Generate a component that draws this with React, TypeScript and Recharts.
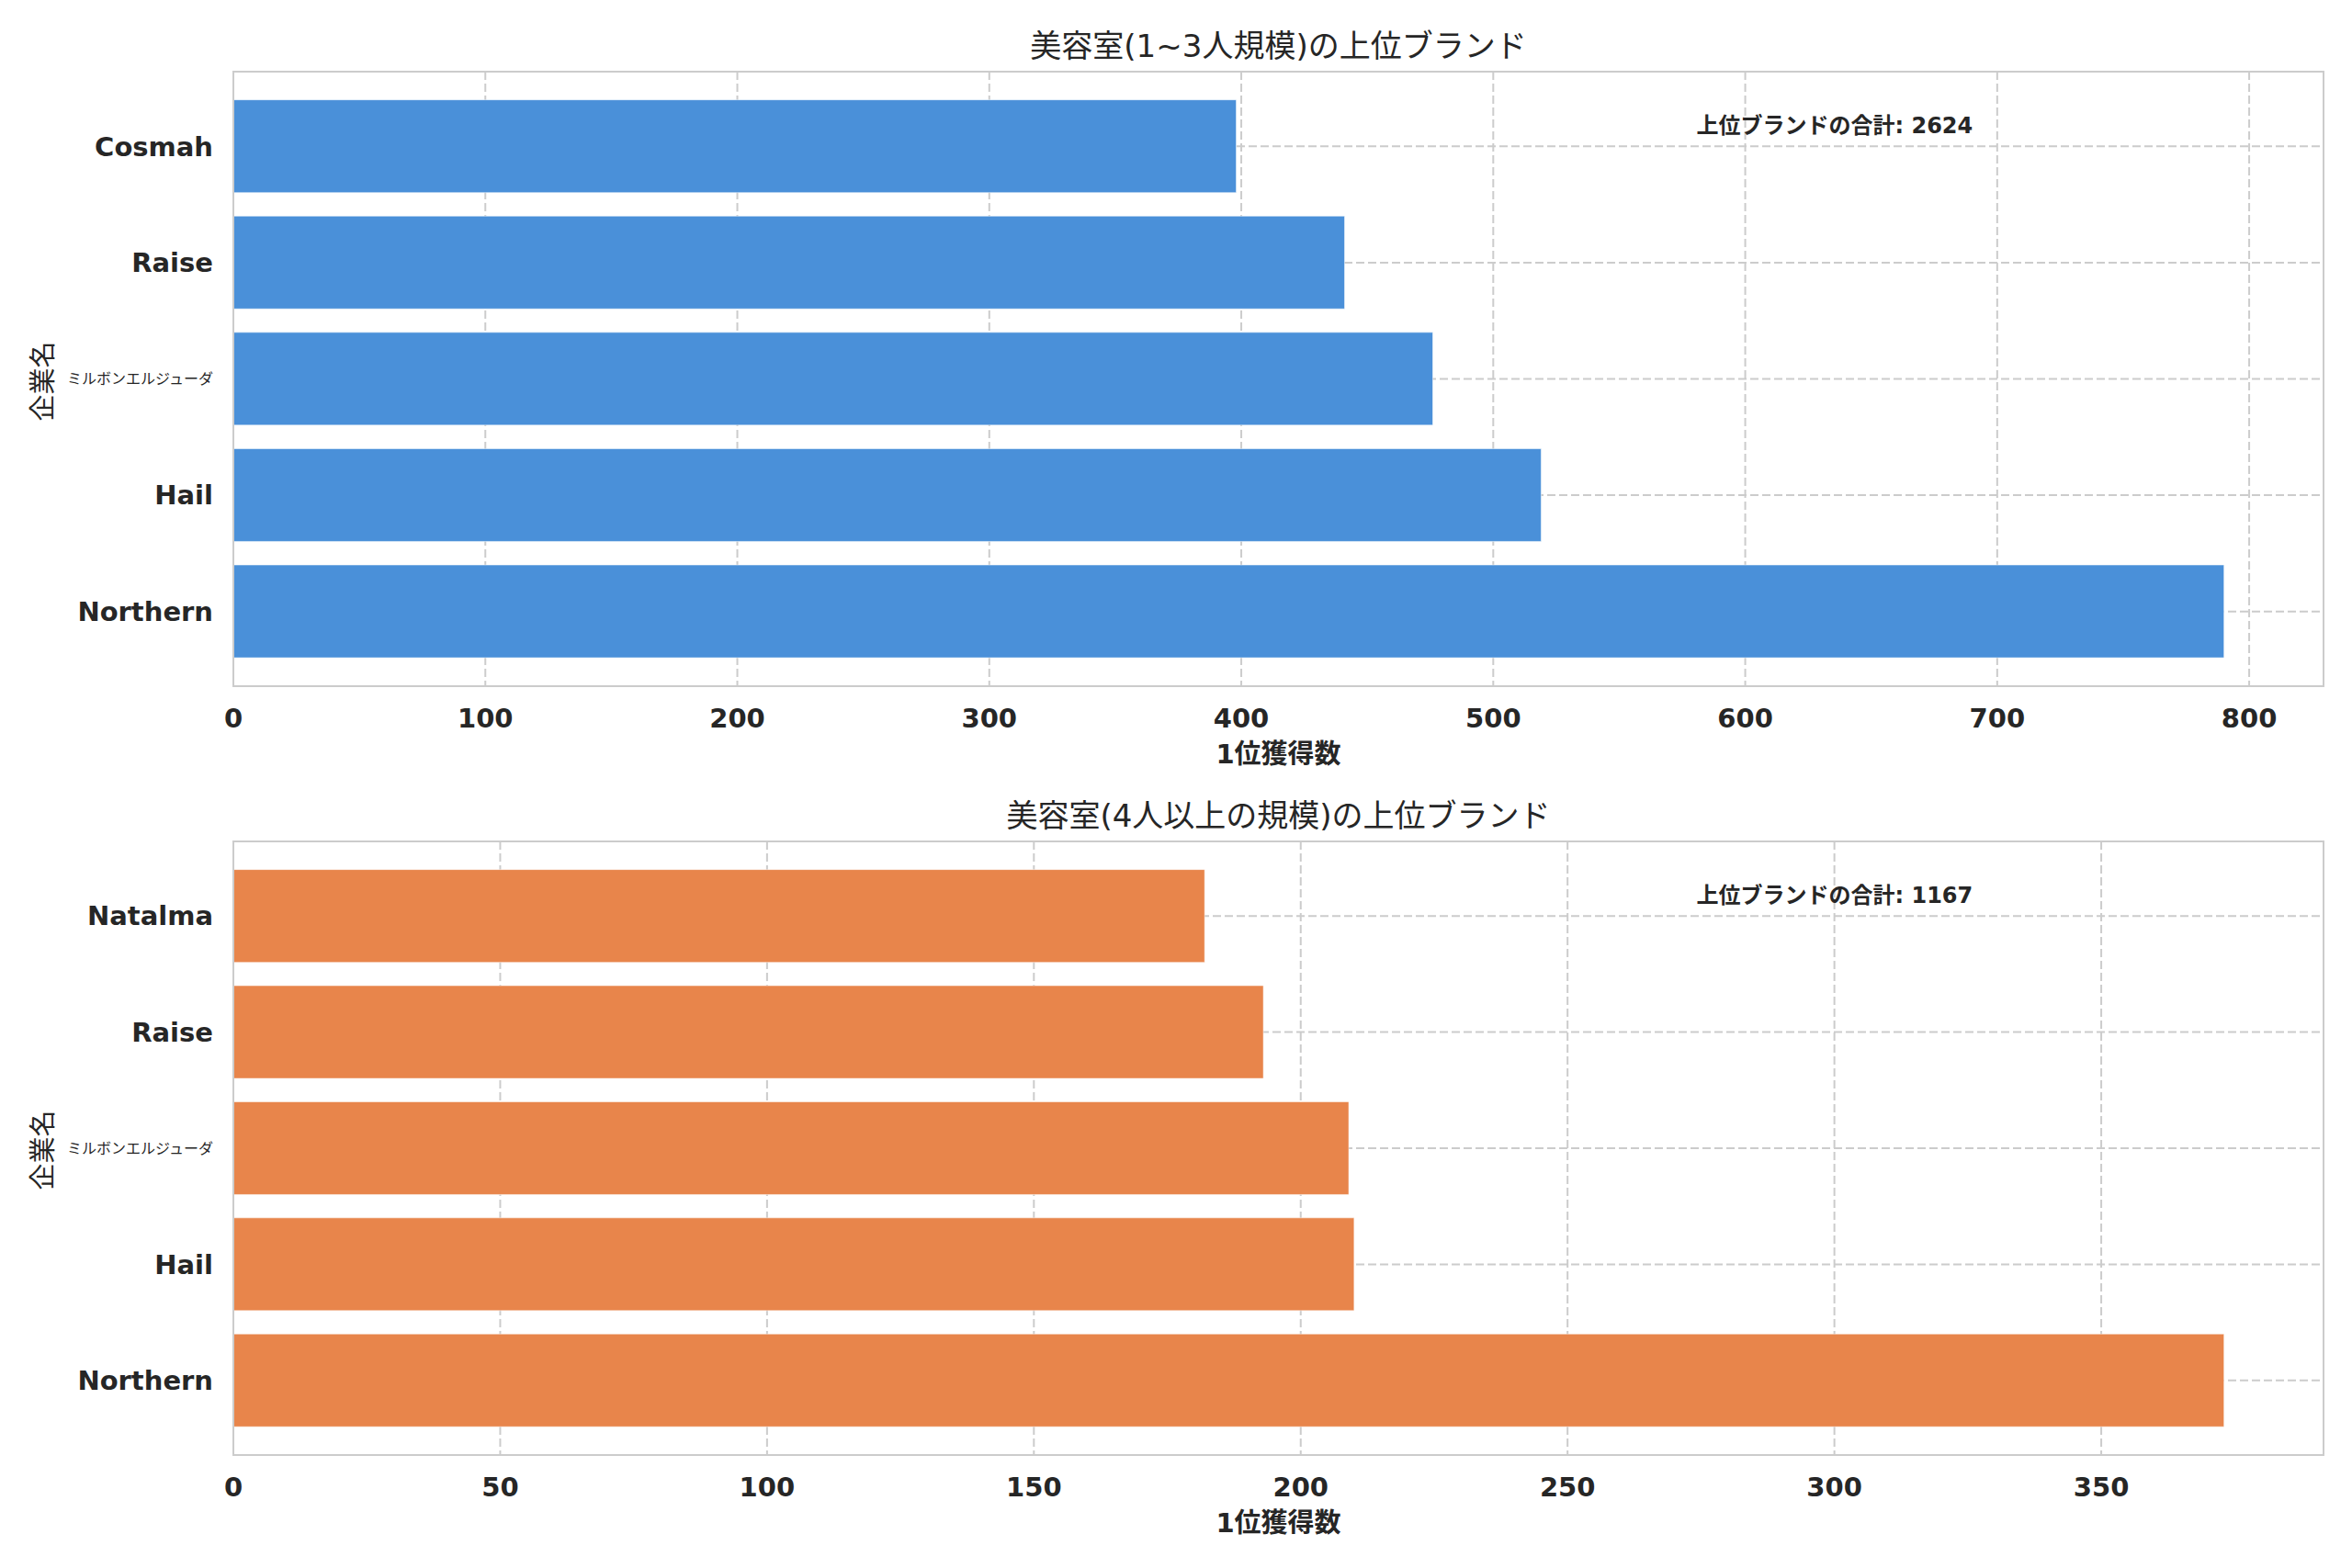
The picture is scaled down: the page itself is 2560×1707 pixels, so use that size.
import React from 'react';
import { BarChart, Bar, XAxis, YAxis, CartesianGrid } from 'recharts';

// ---- data ----
const smallCategories = ['Cosmah', 'Raise', 'ミルボンエルジューダ', 'Hail', 'Northern'];
const smallValues = [398, 441, 476, 519, 790];
const smallTicks = [0, 100, 200, 300, 400, 500, 600, 700, 800];

const largeCategories = ['Natalma', 'Raise', 'ミルボンエルジューダ', 'Hail', 'Northern'];
const largeValues = [182, 193, 209, 210, 373];
const largeTicks = [0, 50, 100, 150, 200, 250, 300, 350];

const titleSmall = '美容室(1~3人規模)の上位ブランド';
const titleLarge = '美容室(4人以上の規模)の上位ブランド';
const xLabel = '1位獲得数';
const yLabel = '企業名';
const totalLabel = '上位ブランドの合計';

const BLUE = '#4A90D9';
const ORANGE = '#E8854B';
const TEXT = '#262626';
const GRID = '#cccccc';
const FONT = "'DejaVu Sans', 'Noto Sans CJK JP', sans-serif";

const W = 2560;
const PLOT_L = 254;
const PLOT_R = 2529;

const CatTick = (props: any) => {
  const { x, y, payload } = props;
  const v = String(payload.value);
  const cjk = /[^\x00-\x7F]/.test(v);
  return (
    <text
      x={x}
      y={y}
      dy="0.355em"
      textAnchor="end"
      fill={TEXT}
      fontSize={cjk ? 16 : 29}
      fontWeight={cjk ? 400 : 700}
      fontFamily={FONT}
    >
      {v}
    </text>
  );
};

type PanelProps = {
  top: number;
  height: number;
  marginTop: number;
  xAxisHeight: number;
  categories: string[];
  values: number[];
  ticks: number[];
  color: string;
  title: string;
};

const Panel = ({ top, height, marginTop, xAxisHeight, categories, values, ticks, color, title }: PanelProps) => {
  const data = categories.map((c, i) => ({ name: c, value: values[i] }));
  const maxV = Math.max(...values);
  const total = values.reduce((a, b) => a + b, 0);
  const plotTop = top + marginTop;
  const plotBottom = top + height - xAxisHeight;
  const plotH = plotBottom - plotTop;
  const plotW = PLOT_R - PLOT_L;
  return (
    <>
      <div style={{ position: 'absolute', left: 0, top, width: W, height }}>
        <BarChart
          width={W}
          height={height}
          data={data}
          layout="vertical"
          margin={{ top: marginTop, right: W - PLOT_R, bottom: 0, left: 0 }}
          barCategoryGap="10%"
        >
          <CartesianGrid stroke={GRID} strokeDasharray="9 4" strokeWidth={2} />
          <XAxis
            type="number"
            domain={[0, maxV * 1.05]}
            ticks={ticks}
            height={xAxisHeight}
            tickSize={0}
            tickMargin={24}
            axisLine={false}
            tickLine={false}
            tick={{ fill: TEXT, fontSize: 29, fontWeight: 700, fontFamily: FONT }}
            allowDataOverflow
          />
          <YAxis
            type="category"
            dataKey="name"
            width={PLOT_L}
            tickSize={0}
            tickMargin={22}
            axisLine={false}
            tickLine={false}
            padding={{ top: 18, bottom: 18 }}
            tick={<CatTick />}
            interval={0}
          />
          <Bar dataKey="value" fill={color} stroke="#ffffff" strokeOpacity={0.5} strokeWidth={1} isAnimationActive={false} />
        </BarChart>
      </div>
      {/* frame */}
      <div
        style={{
          position: 'absolute',
          left: PLOT_L - 1.25,
          top: plotTop - 1.25,
          width: plotW + 2.5,
          height: plotH + 2.5,
          border: `2.5px solid ${GRID}`,
          boxSizing: 'border-box',
          pointerEvents: 'none',
        }}
      />
      {/* title */}
      <div
        style={{
          position: 'absolute',
          left: (PLOT_L + PLOT_R) / 2,
          top: plotTop - 28,
          transform: 'translate(-50%, -50%)',
          fontSize: 34,
          lineHeight: 1,
          whiteSpace: 'nowrap',
          color: TEXT,
          fontFamily: FONT,
        }}
      >
        {title}
      </div>
      {/* annotation */}
      <div
        style={{
          position: 'absolute',
          left: PLOT_L + 0.7 * plotW,
          top: plotTop + 59,
          transform: 'translate(0, -50%)',
          fontSize: 24,
          fontWeight: 700,
          lineHeight: 1,
          whiteSpace: 'nowrap',
          color: TEXT,
          fontFamily: FONT,
        }}
      >
        {`${totalLabel}: ${total}`}
      </div>
      {/* x label */}
      <div
        style={{
          position: 'absolute',
          left: (PLOT_L + PLOT_R) / 2,
          top: plotBottom + 74,
          transform: 'translate(-50%, -50%)',
          fontSize: 29,
          fontWeight: 700,
          lineHeight: 1,
          whiteSpace: 'nowrap',
          color: TEXT,
          fontFamily: FONT,
        }}
      >
        {xLabel}
      </div>
      {/* y label */}
      <div
        style={{
          position: 'absolute',
          left: 47,
          top: (plotTop + plotBottom) / 2 + 2,
          transform: 'translate(-50%, -50%) rotate(-90deg)',
          fontSize: 29,
          lineHeight: 1,
          whiteSpace: 'nowrap',
          color: TEXT,
          fontFamily: FONT,
        }}
      >
        {yLabel}
      </div>
    </>
  );
};

export default function App() {
  return (
    <div
      style={{
        position: 'absolute',
        left: 0,
        top: 0,
        width: W,
        height: 1707,
        background: '#ffffff',
        overflow: 'hidden',
      }}
    >
      <Panel
        top={0}
        height={853}
        marginTop={78}
        xAxisHeight={106}
        categories={smallCategories}
        values={smallValues}
        ticks={smallTicks}
        color={BLUE}
        title={titleSmall}
      />
      <Panel
        top={853}
        height={854}
        marginTop={63}
        xAxisHeight={123}
        categories={largeCategories}
        values={largeValues}
        ticks={largeTicks}
        color={ORANGE}
        title={titleLarge}
      />
    </div>
  );
}
